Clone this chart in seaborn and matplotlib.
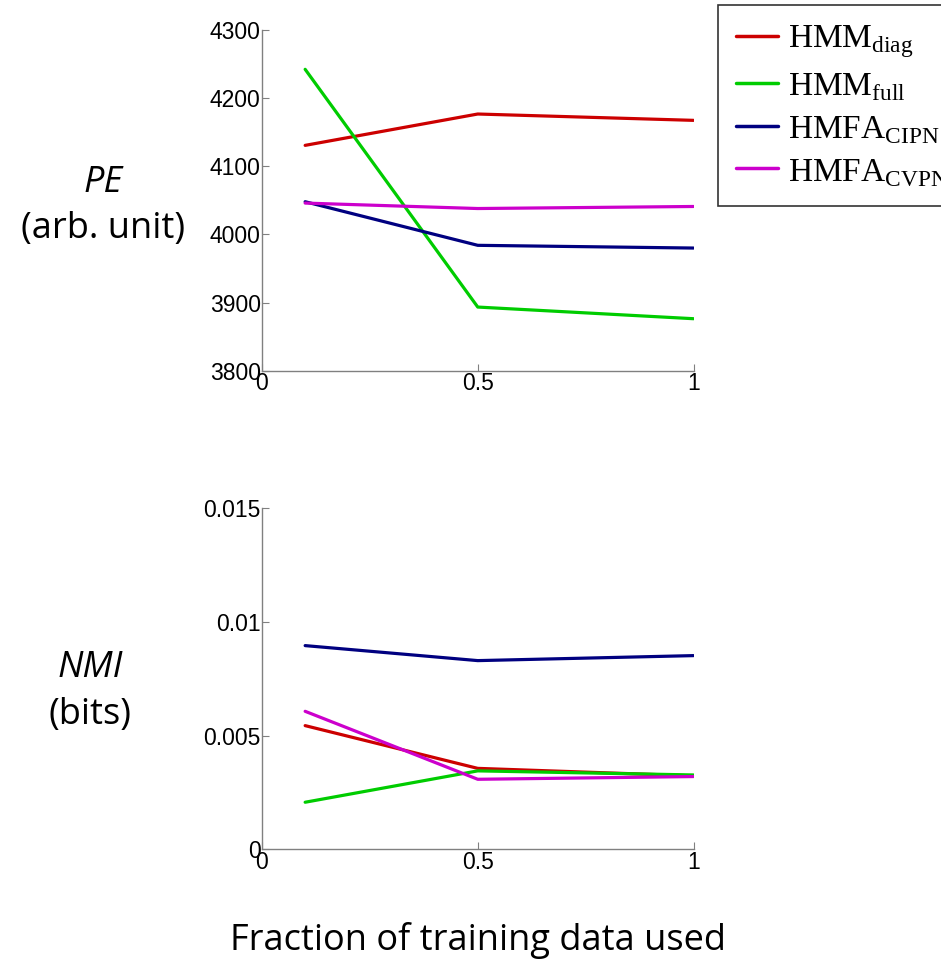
import numpy as np
import pandas as pd
import matplotlib
matplotlib.use("Agg")
import matplotlib.pyplot as plt
import seaborn as sns

fractions = [0.1, 0.5, 1.0]
methods = ["HMM_diag", "HMM_full", "HMFA_CIPN", "HMFA_CVPN"]
legend_labels = [r"HMM$_{\mathrm{diag}}$", r"HMM$_{\mathrm{full}}$",
                 r"HMFA$_{\mathrm{CIPN}}$", r"HMFA$_{\mathrm{CVPN}}$"]
pe_diag = [4130.7, 4176.7, 4167.4]
pe_full = [4242.3, 3893.4, 3876.3]
pe_cipn = [4048.0, 3984.0, 3980.0]
pe_cvpn = [4046.0, 4038.0, 4041.0]
nmi_diag = [0.00544, 0.00356, 0.00323]
nmi_full = [0.00207, 0.00345, 0.00327]
nmi_cipn = [0.00896, 0.00830, 0.00852]
nmi_cvpn = [0.00607, 0.00308, 0.00320]
colors = ["#cc0000", "#00cc00", "#000080", "#cc00cc"]

def long_df(series):
    rows = []
    for m, vals in zip(methods, series):
        for f, v in zip(fractions, vals):
            rows.append({"fraction": f, "method": m, "value": v})
    return pd.DataFrame(rows)

pe_df = long_df([pe_diag, pe_full, pe_cipn, pe_cvpn])
nmi_df = long_df([nmi_diag, nmi_full, nmi_cipn, nmi_cvpn])

sns.set_style("white")
plt.rcParams["font.family"] = ["Liberation Sans", "DejaVu Sans"]
plt.rcParams["text.color"] = "black"
plt.rcParams["mathtext.fontset"] = "custom"
plt.rcParams["mathtext.rm"] = "Liberation Serif"

fig = plt.figure(figsize=(9.41, 9.63), dpi=100)
ax1 = fig.add_axes([262/941, 1-370.7/963, (693.5-262)/941, (370.7-30)/963])
ax2 = fig.add_axes([262/941, 1-849.3/963, (693.5-262)/941, (849.3-508.3)/963])

pal = dict(zip(methods, colors))
for ax, df in [(ax1, pe_df), (ax2, nmi_df)]:
    sns.lineplot(data=df, x="fraction", y="value", hue="method", palette=pal,
                 hue_order=methods, ax=ax, linewidth=2.3, legend=False, errorbar=None)
    ax.set_xlim(0, 1)
    ax.set_xticks([0, 0.5, 1])
    ax.set_xticklabels(["0", "0.5", "1"])
    ax.set_xlabel("")
    ax.set_ylabel("")
    for s in ["top", "right"]:
        ax.spines[s].set_visible(False)
    for s in ["left", "bottom"]:
        ax.spines[s].set_color("#808080")
        ax.spines[s].set_linewidth(1.0)
    ax.tick_params(direction="in", length=5, color="#808080", labelcolor="black",
                   labelsize=16.5, left=True, bottom=True, pad=1)

ax1.set_ylim(3800, 4300)
ax1.set_yticks([3800, 3900, 4000, 4100, 4200, 4300])
ax1.set_yticklabels(["3800", "3900", "4000", "4100", "4200", "4300"])
ax2.set_ylim(0, 0.015)
ax2.set_yticks([0, 0.005, 0.01, 0.015])
ax2.set_yticklabels(["0", "0.005", "0.01", "0.015"])

lab_font = ["Open Sans", "DejaVu Sans"]
fs = 26
fig.text(103/941, 1-183/963, "PE", ha="center", va="center", fontsize=fs,
         style="italic", family=lab_font)
fig.text(103/941, 1-229/963, "(arb. unit)", ha="center", va="center", fontsize=fs,
         family=lab_font)
fig.text(90/941, 1-668/963, "NMI", ha="center", va="center", fontsize=fs,
         style="italic", family=lab_font)
fig.text(90/941, 1-715/963, "(bits)", ha="center", va="center", fontsize=fs,
         family=lab_font)
fig.text(478/941, 1-940/963, "Fraction of training data used", ha="center",
         va="center", fontsize=fs, family=lab_font)

handles = [plt.Line2D([], [], color=c, linewidth=2.5) for c in colors]
leg = fig.legend(handles, legend_labels, loc="upper left",
                 bbox_to_anchor=(718/941, 1-5/963), frameon=True, fancybox=False,
                 prop={"family": "Liberation Serif", "size": 24},
                 handlelength=1.25, handletextpad=0.3, labelspacing=0.33,
                 borderpad=0.55, borderaxespad=0)
leg.get_frame().set_edgecolor("black")
leg.get_frame().set_linewidth(1.2)
for t in leg.get_texts():
    t.set_color("black")

fig.savefig("out.png", dpi=100)
